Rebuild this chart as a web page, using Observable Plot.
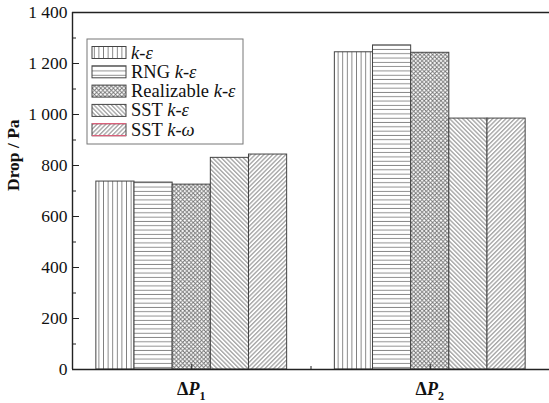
<!DOCTYPE html>
<html><head><meta charset="utf-8">
<script src="https://cdn.jsdelivr.net/npm/d3@7"></script>
<script src="https://cdn.jsdelivr.net/npm/@observablehq/plot@0.6"></script>
<style>body{margin:0;background:#fff;} svg{display:block;}</style>
</head><body><div id="chart"></div>
<script>
// ---- data ----
const groups = ["ΔP", "ΔP"];
const groupSubs = ["1", "2"];
const series = ["k-ε", "RNG k-ε", "Realizable k-ε", "SST k-ε", "SST k-ω"];
const dropP1 = [737, 733, 725, 830, 843];
const dropP2 = [1244, 1271, 1242, 984, 984];
const yTicks = [0, 200, 400, 600, 800, 1000, 1200, 1400];
const yMinorTicks = [100, 300, 500, 700, 900, 1100, 1300];
const patternIds = ["pat-v", "pat-h", "pat-x", "pat-b", "pat-f"];

const values = [dropP1, dropP2];
const rows = [];
groups.forEach((g, gi) => series.forEach((s, si) => rows.push({gi, si, value: values[gi][si]})));
const barW = 0.16;

const fmt = d => d >= 1000 ? String(d).replace(/(\d)(\d{3})$/, "$1 $2") : String(d);
const serif = "'Liberation Serif', 'Times New Roman', serif";

const plot = Plot.plot({
  width: 549, height: 403,
  marginLeft: 72, marginRight: 0, marginTop: 12, marginBottom: 34,
  style: {fontFamily: serif, fontSize: "17px", color: "#111", background: "#fff"},
  x: {domain: [0.5, 2.5], axis: null},
  y: {domain: [0, 1400], axis: null},
  color: {type: "identity"},
  marks: [
    Plot.rectY(rows, {
      x1: d => d.gi + 1 - 0.4 + d.si * barW,
      x2: d => d.gi + 1 - 0.4 + (d.si + 1) * barW,
      y1: 0, y2: "value",
      fill: d => `url(#${patternIds[d.si]})`,
      stroke: "#444", strokeWidth: 1
    }),
    Plot.axisY(yTicks, {anchor: "left", label: null, tickSize: -7, tickPadding: 12, tickFormat: fmt, stroke: "#222", fill: "#111", fontSize: 17.5}),
    Plot.axisY(yMinorTicks, {anchor: "left", label: null, tickSize: -4, text: null, stroke: "#222"}),
    Plot.axisX([1, 2], {anchor: "bottom", label: null, tickSize: -5, text: null, stroke: "#222"}),
    Plot.axisX([1.5], {anchor: "bottom", label: null, tickSize: -3, text: null, stroke: "#222"}),
    Plot.ruleX([0.5], {stroke: "#222", strokeWidth: 1.4}),
    Plot.ruleY([0, 1400], {stroke: "#222", strokeWidth: 1.4}),
    Plot.text(["Drop / Pa"], {frameAnchor: "left", dx: -59, rotate: -90, fontWeight: "bold", fontSize: 17.5, fill: "#111"})
  ]
});

const svg = d3.select(plot);
const defs = svg.insert("defs", ":first-child");
function linePattern(id, w, h, lines, transform) {
  const p = defs.append("pattern").attr("id", id).attr("patternUnits", "userSpaceOnUse")
    .attr("width", w).attr("height", h);
  if (transform) p.attr("patternTransform", transform);
  p.append("rect").attr("width", w).attr("height", h).attr("fill", "#fff");
  lines.forEach(([x1, y1, x2, y2]) => p.append("line").attr("x1", x1).attr("y1", y1).attr("x2", x2).attr("y2", y2)
    .attr("stroke", "#707070").attr("stroke-width", 0.85));
}
linePattern("pat-v", 4.6, 10, [[2.3, 0, 2.3, 10]]);
linePattern("pat-h", 10, 4.3, [[0, 2.1, 10, 2.1]]);
linePattern("pat-x", 4.2, 4.2, [[0, 0, 4.2, 4.2], [0, 4.2, 4.2, 0]]);
linePattern("pat-b", 3.1, 10, [[1.5, 0, 1.5, 10]], "rotate(-45)");
linePattern("pat-f", 3.1, 10, [[1.5, 0, 1.5, 10]], "rotate(45)");

// x group labels
const xs = plot.scale("x");
groups.forEach((g, gi) => {
  const t = svg.append("text").attr("x", xs.apply(gi + 1)).attr("y", 395)
    .attr("text-anchor", "middle").attr("font-family", serif)
    .attr("font-size", 18).attr("font-weight", "bold").attr("fill", "#111");
  t.append("tspan").text(g.charAt(0));
  t.append("tspan").attr("font-style", "italic").text(g.slice(1));
  t.append("tspan").attr("font-size", 12).attr("dy", 5).text(groupSubs[gi]);
});

// legend
const lg = svg.append("g");
lg.append("rect").attr("x", 87).attr("y", 39).attr("width", 156).attr("height", 105)
  .attr("fill", "#fff").attr("stroke", "#777").attr("stroke-width", 1);
series.forEach((s, i) => {
  const cy = 52.5 + i * 19.3;
  lg.append("rect").attr("x", 92).attr("y", cy - 6).attr("width", 34).attr("height", 12)
    .attr("fill", `url(#${patternIds[i]})`).attr("stroke", "#444").attr("stroke-width", 1);
  if (i === series.length - 1) {
    lg.append("line").attr("x1", 92).attr("x2", 126).attr("y1", cy - 6).attr("y2", cy - 6).attr("stroke", "#d9607a").attr("stroke-width", 1.2);
    lg.append("line").attr("x1", 92).attr("x2", 126).attr("y1", cy + 6).attr("y2", cy + 6).attr("stroke", "#d9607a").attr("stroke-width", 1.2);
  }
  const t = lg.append("text").attr("x", 131).attr("y", cy + 6).attr("text-anchor", "start")
    .attr("font-family", serif).attr("font-size", 18.5).attr("fill", "#111");
  const m = s.match(/^(.*?)(k)-(.)$/);
  if (m[1]) t.append("tspan").text(m[1]);
  t.append("tspan").attr("font-style", "italic").text("k");
  t.append("tspan").text("-");
  t.append("tspan").attr("font-style", "italic").text(m[3]);
});

document.getElementById("chart").appendChild(plot);
</script>
</body></html>
